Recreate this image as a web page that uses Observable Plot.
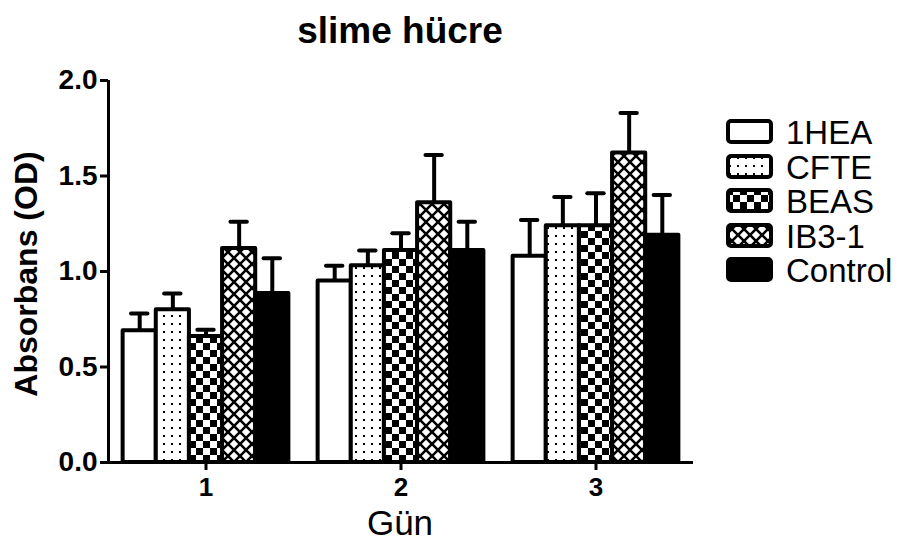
<!DOCTYPE html>
<html><head><meta charset="utf-8">
<script src="https://cdn.jsdelivr.net/npm/d3@7"></script>
<script src="https://cdn.jsdelivr.net/npm/@observablehq/plot@0.6"></script>
<style>
body{margin:0;background:#fff;font-family:"Liberation Sans",Arial,sans-serif;color:#000;}
#wrap{position:relative;width:899px;height:547px;overflow:hidden;}
#wrap svg.plot{position:absolute;left:0;top:0;}
.lbl{position:absolute;line-height:1;white-space:nowrap;}
#title{left:0;width:800px;top:12px;text-align:center;font-weight:bold;font-size:37px;}
#ylab{left:-174px;width:400px;top:258px;text-align:center;font-weight:bold;font-size:32px;transform:rotate(-90deg);}
#xlab{left:200px;width:400px;top:510px;text-align:center;font-size:35px;line-height:0.75;}
.leg{position:absolute;left:726px;height:26px;}
.legtxt{position:absolute;left:786px;font-size:33px;line-height:1;}
</style></head>
<body><div id="wrap">
<svg width="0" height="0" style="position:absolute"><defs>
<pattern id="p-dots" patternUnits="userSpaceOnUse" width="8" height="8"><rect width="8" height="8" fill="white"/><rect x="3" y="3" width="2" height="2" fill="black"/></pattern>
<pattern id="p-check" patternUnits="userSpaceOnUse" width="14" height="14"><rect width="14" height="14" fill="white"/><rect width="7" height="7" fill="black"/><rect x="7" y="7" width="7" height="7" fill="black"/></pattern>
<pattern id="p-cross" patternUnits="userSpaceOnUse" width="12" height="12"><rect width="12" height="12" fill="white"/><path d="M-2,-2L14,14M14,-2L-2,14" stroke="black" stroke-width="2.6"/></pattern>
</defs></svg>
<div id="title" class="lbl">slime hücre</div>
<div id="ylab" class="lbl">Absorbans (OD)</div>
<div id="xlab" class="lbl">Gün</div>
</div>
<script>
// ---- data ----
const days = [1, 2, 3];
const series = ["1HEA", "CFTE", "BEAS", "IB3-1", "Control"];
const yTicks = [0, 0.5, 1.0, 1.5, 2.0];
// means per series (day 1, 2, 3)
const mean1HEA    = [0.69, 0.95, 1.08];
const meanCFTE    = [0.80, 1.03, 1.24];
const meanBEAS    = [0.66, 1.11, 1.24];
const meanIB31    = [1.12, 1.36, 1.62];
const meanControl = [0.885, 1.11, 1.19];
// upper error (SEM) per series
const err1HEA    = [0.09, 0.08, 0.19];
const errCFTE    = [0.085, 0.08, 0.15];
const errBEAS    = [0.035, 0.09, 0.17];
const errIB31    = [0.14, 0.25, 0.21];
const errControl = [0.185, 0.15, 0.21];

const means = [mean1HEA, meanCFTE, meanBEAS, meanIB31, meanControl];
const errs = [err1HEA, errCFTE, errBEAS, errIB31, errControl];
const fills = ["white", "url(#p-dots)", "url(#p-check)", "url(#p-cross)", "black"];

const rows = [];
series.forEach((s, i) => days.forEach((d, j) => rows.push({
  series: s, idx: i, day: d, mean: means[i][j], hi: means[i][j] + errs[i][j]
})));

const barW = 0.17;     // bar width in day units
const capHalf = 0.042; // half width of error cap
const xDomain = [0.5, 3.5];
const xc = d => d.day + (d.idx - (series.length - 1) / 2) * barW;

const plot = Plot.plot({
  width: 899, height: 547,
  marginLeft: 108, marginRight: 206, marginTop: 80, marginBottom: 85,
  style: {fontFamily: '"Liberation Sans", Arial, sans-serif', background: "transparent", color: "black", overflow: "visible"},
  x: {domain: xDomain},
  y: {domain: [0, 2]},
  color: {type: "identity"},
  marks: [
    Plot.ruleX(rows, {x: xc, y1: "mean", y2: "hi", strokeWidth: 4}),
    Plot.ruleY(rows, {y: "hi", x1: d => xc(d) - capHalf, x2: d => xc(d) + capHalf, strokeWidth: 4, strokeLinecap: "round"}),
    Plot.rectY(rows, {x1: d => xc(d) - barW / 2, x2: d => xc(d) + barW / 2, y1: d => 0, y2: "mean",
      fill: d => fills[d.idx], stroke: "black", strokeWidth: 4, strokeLinejoin: "round"}),
    Plot.ruleY([0], {strokeWidth: 3}),
    Plot.ruleX([xDomain[0]], {y1: d => 0, y2: d => 2, strokeWidth: 3}),
    Plot.axisY(yTicks, {tickSize: 8, tickPadding: 3, strokeWidth: 3, fontSize: 28, fontWeight: "bold",
      tickFormat: d => d.toFixed(1), label: null}),
    Plot.axisX(days, {tickSize: 8, tickPadding: 7, strokeWidth: 3, fontSize: 26, fontWeight: "bold",
      tickFormat: d => String(d), label: null})
  ]
});
plot.classList.add("plot");
const wrap = document.getElementById("wrap");
wrap.insertBefore(plot, wrap.firstChild.nextSibling);

// legend
const rowY = [132, 166.5, 201, 235.5, 270];
series.forEach((s, i) => {
  const sw = document.createElementNS("http://www.w3.org/2000/svg", "svg");
  sw.setAttribute("class", "leg");
  sw.setAttribute("width", 48); sw.setAttribute("height", 26);
  sw.style.top = (rowY[i] - 13) + "px";
  sw.innerHTML = `<rect x="2" y="2" width="43" height="21" rx="3" fill="${fills[i]}" stroke="black" stroke-width="4"/>`;
  wrap.appendChild(sw);
  const t = document.createElement("div");
  t.className = "legtxt";
  t.textContent = s;
  t.style.top = (rowY[i] - 16) + "px";
  wrap.appendChild(t);
});
</script>
</body></html>
